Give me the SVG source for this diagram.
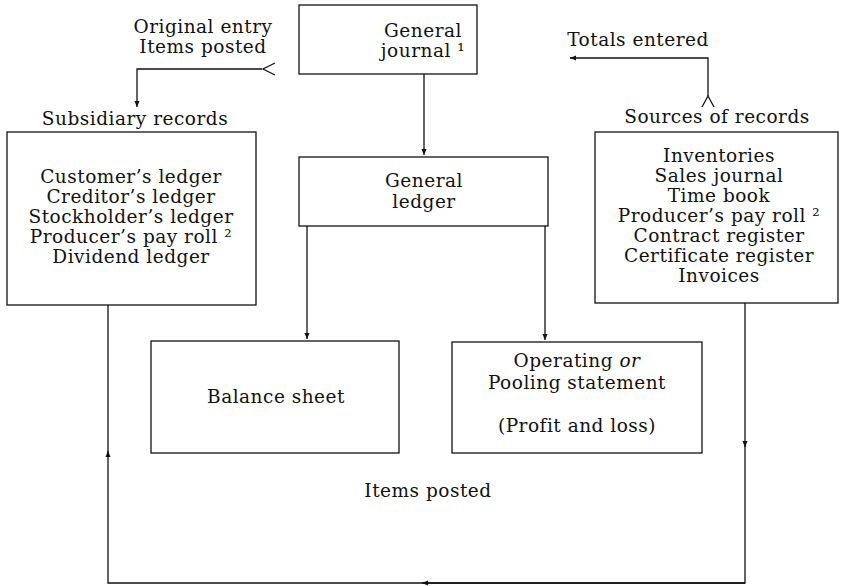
<svg xmlns="http://www.w3.org/2000/svg" width="842" height="586" viewBox="0 0 842 586">
<style>
text{font-family:"DejaVu Serif","Liberation Serif",serif;font-size:18.5px;letter-spacing:0.5px;fill:#111;text-anchor:middle}
.box{fill:none;stroke:#111;stroke-width:1.3}
.ln{fill:none;stroke:#111;stroke-width:1.3}
.it{font-style:italic}
</style>
<defs>
<marker id="ah" viewBox="0 0 8 8" refX="7" refY="4" markerWidth="7" markerHeight="7" markerUnits="userSpaceOnUse" orient="auto">
<path d="M0,1 L7,4 L0,7 Z" fill="#111"/>
</marker>
</defs>
<rect width="842" height="586" fill="#fff"/>

<g id="connectors">
<path class="ln" d="M262,69 H137 V107" marker-end="url(#ah)"/>
<path class="ln" d="M275,63 L263,69 L275,75"/>
<path class="ln" d="M708,96 V58 H570" marker-end="url(#ah)"/>
<path class="ln" d="M702,107 L708,96 L714,107"/>
<path class="ln" d="M424,74 V155" marker-end="url(#ah)"/>
<path class="ln" d="M307,226 V339" marker-end="url(#ah)"/>
<path class="ln" d="M545,226 V340" marker-end="url(#ah)"/>
<path class="ln" d="M745,303 V447" marker-end="url(#ah)"/>
<path class="ln" d="M745,445 V583 H424"/>
<path class="ln" d="M745,583 H422" marker-end="url(#ah)"/>
<path class="ln" d="M424,583 H108 V451" marker-end="url(#ah)"/>
<path class="ln" d="M108,453 V305"/>
</g>

<g id="label-original">
<text x="203" y="33">Original entry</text>
<text x="203" y="53">Items posted</text>
</g>

<g id="general-journal">
<rect class="box" x="299" y="5" width="178" height="69"/>
<text x="423" y="37">General</text>
<text x="423" y="57">journal ¹</text>
</g>

<g id="label-totals">
<text x="638" y="46">Totals entered</text>
</g>

<g id="subsidiary-records">
<text x="135" y="125">Subsidiary records</text>
<rect class="box" x="7" y="132" width="249" height="173"/>
<text x="131" y="183">Customer’s ledger</text>
<text x="131" y="203">Creditor’s ledger</text>
<text x="131" y="223">Stockholder’s ledger</text>
<text x="131" y="243">Producer’s pay roll ²</text>
<text x="131" y="263">Dividend ledger</text>
</g>

<g id="sources-of-records">
<text x="717" y="123">Sources of records</text>
<rect class="box" x="595" y="132" width="243" height="171"/>
<text x="719" y="162">Inventories</text>
<text x="719" y="182">Sales journal</text>
<text x="719" y="202">Time book</text>
<text x="719" y="222">Producer’s pay roll ²</text>
<text x="719" y="242">Contract register</text>
<text x="719" y="262">Certificate register</text>
<text x="719" y="282">Invoices</text>
</g>

<g id="general-ledger">
<rect class="box" x="299" y="157" width="249" height="69"/>
<text x="424" y="187">General</text>
<text x="424" y="208">ledger</text>
</g>

<g id="balance-sheet">
<rect class="box" x="151" y="341" width="248" height="112"/>
<text x="276" y="403">Balance sheet</text>
</g>

<g id="operating-statement">
<rect class="box" x="452" y="342" width="250" height="111"/>
<text x="577" y="367">Operating <tspan class="it">or</tspan></text>
<text x="577" y="389">Pooling statement</text>
<text x="577" y="432">(Profit and loss)</text>
</g>

<g id="label-items-posted">
<text x="428" y="497">Items posted</text>
</g>
</svg>
